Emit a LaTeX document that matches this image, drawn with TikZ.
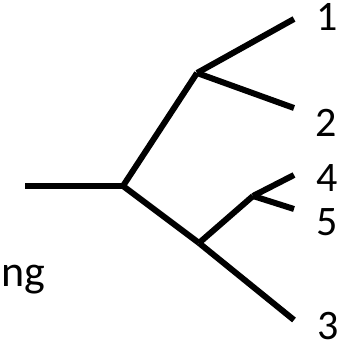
\documentclass[tikz,border=0pt]{standalone}
\usepackage{fontspec}
\setmainfont{Carlito}
\begin{document}
\begin{tikzpicture}[x=1pt,y=1pt,
  branch/.style={line width=6pt,line cap=butt,line join=round},
  leaflabel/.style={inner sep=0pt,font=\fontsize{42}{42}\selectfont}]
\useasboundingbox (0,0) rectangle (351,345);
% coordinates (y = 345 - pixel y)
\coordinate (r0) at (25,159);
\coordinate (r) at (123,159);
\coordinate (u) at (197,272);
\coordinate (e1) at (294,326);
\coordinate (e2) at (294,237);
\coordinate (l) at (199,102);
\coordinate (e3) at (294,25);
\coordinate (s) at (253,149);
\coordinate (e4) at (294,170);
\coordinate (e5) at (294,136);
\draw[branch] (r0) -- (r);
\draw[branch] (r) -- (u);
\draw[branch] (r) -- (l);
\draw[branch] (u) -- (e1);
\draw[branch] (u) -- (e2);
\draw[branch] (l) -- (e3);
\draw[branch] (l) -- (s);
\draw[branch] (s) -- (e4);
\draw[branch] (s) -- (e5);
\node[leaflabel] (t1) at (327,328) {1};
\node[leaflabel] (t2) at (326,222) {2};
\node[leaflabel] (t4) at (327,167) {4};
\node[leaflabel] (t5) at (327,123) {5};
\node[leaflabel] (t3) at (328,19) {3};
\node[inner sep=0pt,anchor=base west,font=\fontsize{44}{44}\selectfont] (ng) at (1,58) {ng};
\end{tikzpicture}
\end{document}
